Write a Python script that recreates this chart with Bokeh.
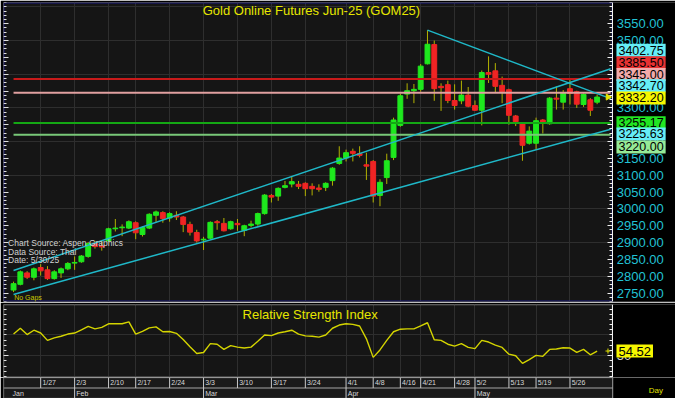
import numpy as np
from bokeh.plotting import figure
from bokeh.layouts import column
from bokeh.models import (Range1d, LinearAxis, FixedTicker, Label, BoxAnnotation,
                          ColumnDataSource, PrintfTickFormatter)
from bokeh.embed import file_html
from bokeh.resources import INLINE
from bokeh.core.properties import value

# ---------------- data ----------------
opens = [2759, 2776, 2810, 2797, 2826, 2819, 2793, 2810, 2822, 2839,
         2843, 2859, 2898, 2890, 2905, 2941, 2944, 2943, 2959, 2924,
         2943, 2981, 2989, 2973, 2981, 2976, 2954, 2930, 2908, 2913,
         2962, 2957, 2941, 2957, 2936, 2951, 2955, 2986, 3040, 3038,
         3064, 3074, 3073, 3076, 3067, 3062, 3064, 3084, 3135, 3151,
         3171, 3164, 3131, 3141, 3040, 3093, 3153, 3248, 3341, 3351,
         3355, 3431, 3488, 3364, 3369, 3322, 3321, 3338, 3307, 3293,
         3405, 3410, 3367, 3354, 3276, 3253, 3195, 3195, 3264, 3253,
         3329, 3317, 3357, 3348, 3310, 3324, 3317]
highs = [2784, 2817, 2815, 2826, 2836, 2830, 2818, 2826, 2842, 2859,
         2863, 2902, 2905, 2905, 2944, 2970, 2954, 2966, 2963, 2948,
         2987, 2995, 2993, 2990, 2993, 2979, 2962, 2938, 2917, 2963,
         2967, 2973, 2965, 2970, 2953, 2965, 2989, 3044, 3044, 3064,
         3083, 3095, 3083, 3079, 3076, 3073, 3079, 3124, 3186, 3176,
         3179, 3186, 3167, 3145, 3088, 3164, 3271, 3342, 3373, 3371,
         3430, 3531, 3500, 3373, 3381, 3370, 3381, 3362, 3322, 3411,
         3453, 3433, 3393, 3357, 3279, 3256, 3245, 3271, 3267, 3332,
         3364, 3353, 3383, 3351, 3343, 3329, 3340]
lows = [2753, 2773, 2792, 2788, 2802, 2789, 2790, 2795, 2818, 2819,
        2840, 2855, 2882, 2876, 2902, 2933, 2919, 2940, 2910, 2918,
        2940, 2959, 2959, 2962, 2967, 2931, 2921, 2900, 2878, 2910,
        2938, 2933, 2938, 2935, 2919, 2945, 2950, 2983, 3019, 3024,
        3061, 3064, 3059, 3038, 3040, 3051, 3053, 3069, 3131, 3141,
        3141, 3153, 3086, 3019, 3008, 3074, 3145, 3244, 3327, 3314,
        3348, 3429, 3321, 3291, 3314, 3295, 3311, 3302, 3291, 3248,
        3374, 3345, 3314, 3250, 3246, 3143, 3191, 3176, 3224, 3250,
        3295, 3295, 3310, 3300, 3303, 3276, 3311]
closes = [2778, 2813, 2797, 2822, 2816, 2793, 2813, 2822, 2838, 2841,
          2860, 2897, 2888, 2887, 2941, 2943, 2946, 2962, 2929, 2945,
          2984, 2991, 2971, 2986, 2976, 2954, 2931, 2905, 2910, 2960,
          2959, 2935, 2962, 2953, 2950, 2955, 2986, 3041, 3035, 3061,
          3069, 3081, 3067, 3060, 3060, 3058, 3076, 3121, 3151, 3167,
          3165, 3159, 3127, 3038, 3079, 3143, 3264, 3336, 3351, 3355,
          3424, 3489, 3357, 3360, 3322, 3307, 3338, 3305, 3293, 3405,
          3400, 3364, 3348, 3278, 3259, 3189, 3231, 3262, 3255, 3329,
          3326, 3345, 3343, 3311, 3340, 3293, 3332.20]
rsi = [70.9, 76.5, 70.4, 74.6, 71.9, 64.8, 67.2, 68.8, 70.9, 71.9,
       75.0, 78.3, 75.9, 77.4, 80.8, 80.8, 80.8, 82.7, 70.9, 73.4,
       76.9, 77.8, 73.1, 73.4, 71.6, 65.7, 58.6, 52.1, 53.1, 61.7,
       61.1, 56.1, 59.8, 58.3, 57.4, 58.3, 63.9, 70.0, 69.4, 71.9,
       73.1, 74.6, 70.9, 69.1, 68.8, 67.9, 70.0, 76.5, 79.6, 80.8,
       80.2, 78.7, 66.3, 48.4, 55.6, 64.8, 73.1, 75.6, 75.9, 75.9,
       78.7, 81.8, 65.4, 64.8, 61.1, 59.3, 61.7, 58.0, 56.8, 64.8,
       63.2, 60.2, 58.0, 51.5, 50.0, 42.6, 46.3, 50.3, 49.4, 56.1,
       56.5, 57.7, 57.4, 53.3, 56.1, 50.9, 54.52]

week_ticks = [4, 9, 14, 18, 23, 28, 33, 38, 43, 49, 53, 57, 60, 65, 68, 73, 77, 82]
week_labels = ["1/27", "2/3", "2/10", "2/17", "2/24", "3/3", "3/10", "3/17", "3/24",
               "4/1", "4/8", "4/16", "4/21", "4/28", "5/2", "5/13", "5/19", "5/26"]
month_ticks = [-0.4, 9, 28, 49, 68]
month_labels = ["Jan", "Feb", "Mar", "Apr", "May"]

price_ticks = [2750, 2800, 2850, 2900, 2950, 3000, 3050, 3100, 3150, 3200,
               3250, 3300, 3350, 3400, 3450, 3500, 3550]
price_grid = [2800, 2900, 3000, 3100, 3200, 3300, 3400, 3500, 3600]
rsi_grid = [30, 50, 70]

level_values = [3385.50, 3345.00, 3255.17, 3220.00]
level_colors = ["#c81a1a", "#e0a0a0", "#14a814", "#78c878"]

# trend lines: anchor points (bar index, price)
trend_x0 = [0, 0, 61]
trend_y0 = [2817.0, 2746.0, 3531.0]
trend_x1 = [86, 86, 86]
trend_y1 = [3402.75, 3225.63, 3342.70]

marker_values = ["3402.75", "3385.50", "3345.00", "3342.70", "3332.20",
                 "3255.17", "3225.63", "3220.00"]
marker_colors = ["#66eef6", "#e83232", "#f2aaaa", "#66eef6", "#f6f600",
                 "#22e622", "#66eef6", "#96ea96"]
# stacked box positions (price-equivalent, to avoid overlap)
marker_slots = [3471.4, 3434.3, 3399.1, 3365.4, 3329.7, 3255.7, 3222.6, 3184.0]

rsi_last = 54.52

# ---------------- style ----------------
FONT = "Liberation Sans"
BG = "#151515"
BORDER = "#000000"
GRID = "#2e2e2e"
CYAN = "#1fb8c8"
YELLOW = "#e6e600"
W = 675
X_LEFT, X_EDGE, X_MAX = -1.48, 88.3, 97.55
LINE_END = 88.0
BOX_X = 88.85

xr = Range1d(X_LEFT, X_MAX)
N = len(closes)
idx = list(range(N))


def minor_list(lo, hi, step):
    out = []
    v = lo
    while v <= hi:
        out.append(v)
        v += step
    return out


def ruler(fig, ticks, minors):
    ax = LinearAxis(ticker=FixedTicker(ticks=ticks, minor_ticks=minors),
                    fixed_location=X_LEFT, major_label_text_color=None,
                    axis_line_color=None, major_tick_in=5, major_tick_out=0,
                    minor_tick_in=3, minor_tick_out=0,
                    major_tick_line_color="#e0e0e0", minor_tick_line_color="#e0e0e0")
    fig.add_layout(ax, "left")


def side_panel(fig):
    # black area to the right of the plotting region
    fig.add_layout(BoxAnnotation(left=X_EDGE, fill_color="#000000", fill_alpha=1,
                                 line_color=None, level="glyph"))


def base_fig(height, yr, top, bottom, with_axis=True):
    f = figure(width=W, height=height, x_range=xr, y_range=yr,
               output_backend="svg", toolbar_location=None,
               x_axis_location=None, y_axis_location="right" if with_axis else None,
               min_border_left=3, min_border_right=0, min_border_top=top,
               min_border_bottom=bottom, background_fill_color=BG,
               border_fill_color=BORDER, outline_line_color=None)
    return f


def style_right_axis(ax, ticks, minors, color):
    ax.ticker = FixedTicker(ticks=ticks, minor_ticks=minors)
    ax.fixed_location = X_EDGE
    ax.major_label_text_color = color
    ax.major_label_text_font = FONT
    ax.major_label_text_font_size = "13px"
    ax.major_label_standoff = 4
    ax.axis_line_color = "#f0f0f0"
    ax.major_tick_in = 5
    ax.major_tick_out = 0
    ax.minor_tick_in = 3
    ax.minor_tick_out = 0
    ax.major_tick_line_color = "#f0f0f0"
    ax.minor_tick_line_color = "#f0f0f0"


def value_box(fig, x, y, txt, col, size):
    fig.add_layout(Label(x=x, y=y, text=txt, text_align="left", text_baseline="middle",
                         text_color="#000000", text_font=FONT, text_font_size=size,
                         background_fill_color=col, background_fill_alpha=1,
                         padding=2, level="overlay"))


# ---------------- main price panel ----------------
p = base_fig(302, Range1d(2725, 3613), 2, 1)
p.xgrid.ticker = FixedTicker(ticks=week_ticks)
p.ygrid.ticker = FixedTicker(ticks=price_grid)
p.xgrid.grid_line_color = GRID
p.ygrid.grid_line_color = GRID
side_panel(p)
p.add_layout(BoxAnnotation(right=X_EDGE, fill_color=None, line_color="#1e1ec8",
                           line_width=3, level="underlay"))

ay = p.yaxis[0]
style_right_axis(ay, price_ticks, minor_list(2725, 3612.5, 12.5), "#22c2d4")
ay.formatter = PrintfTickFormatter(format="%.2f")
ruler(p, price_ticks, minor_list(2725, 3612.5, 12.5))

up = [c >= o for o, c in zip(opens, closes)]
src = ColumnDataSource(dict(
    x=idx, o=opens, h=highs, l=lows, c=closes,
    top=[max(o, c) for o, c in zip(opens, closes)],
    bottom=[min(o, c) for o, c in zip(opens, closes)],
    color=["#1ee81e" if u else "#f02424" for u in up],
))
p.segment(x0="x", y0="l", x1="x", y1="h", source=src, line_color="#b2b200", line_width=1)
p.vbar(x="x", width=0.72, top="top", bottom="bottom", source=src,
       fill_color="color", line_color="color", line_width=1)

# horizontal levels
p.segment(x0=[0] * len(level_values), x1=[LINE_END] * len(level_values),
          y0=level_values, y1=level_values, line_color=level_colors, line_width=2)

# trend lines, extended to the right edge
ex, ey = [], []
for x0, y0, x1, y1 in zip(trend_x0, trend_y0, trend_x1, trend_y1):
    slope = (y1 - y0) / (x1 - x0)
    ex.append(LINE_END)
    ey.append(y0 + slope * (LINE_END - x0))
p.segment(x0=trend_x0, y0=trend_y0, x1=ex, y1=ey, line_color=CYAN, line_width=1.5)

p.scatter(x=[87.6], y=[closes[-1]], marker="triangle", angle=-np.pi / 2,
          size=6, fill_color=YELLOW, line_color=YELLOW)

p.add_layout(Label(x=43.9, y=3590, text="Gold Online Futures Jun-25 (GOM25)",
                   text_align="center", text_baseline="middle", text_color=YELLOW,
                   text_font=FONT, text_font_size="13px"))
for t, yv in zip(["Chart Source: Aspen Graphics", "Data Source: Thai", "Date:    5/30/25"],
                 [2900, 2873, 2848]):
    p.add_layout(Label(x=-0.8, y=yv, text=t, text_align="left", text_baseline="middle",
                       text_color="#d2d2d2", text_font=FONT, text_font_size="8.5px"))
p.add_layout(Label(x=0.1, y=2736, text="No Gaps", text_align="left", text_baseline="middle",
                   text_color="#c8c800", text_font=FONT, text_font_size="7px"))

for txt, col, yv in zip(marker_values, marker_colors, marker_slots):
    value_box(p, BOX_X, yv, txt, col, "12.5px")

# ---------------- RSI panel ----------------
r = base_fig(75, Range1d(29, 99.4), 2, 0)
r.xgrid.ticker = FixedTicker(ticks=week_ticks)
r.ygrid.ticker = FixedTicker(ticks=rsi_grid)
r.xgrid.grid_line_color = GRID
r.ygrid.grid_line_color = GRID
side_panel(r)
r.add_layout(BoxAnnotation(right=X_EDGE, fill_color=None, line_color="#bdbdbd",
                           line_width=2, level="underlay"))
ry = r.yaxis[0]
style_right_axis(ry, [50], minor_list(30, 95, 5), "#d0d0d0")
ruler(r, [50], minor_list(30, 95, 5))

r.line(x=idx, y=rsi, line_color="#d4d400", line_width=1.4)
r.scatter(x=[87.6], y=[rsi_last], marker="cross", size=5, line_color=YELLOW)
r.add_layout(Label(x=43.7, y=90.1, text="Relative Strength Index", text_align="center",
                   text_baseline="middle", text_color=YELLOW, text_font=FONT,
                   text_font_size="13px"))
value_box(r, BOX_X, rsi_last, f"{rsi_last:.2f}", "#f6f600", "13px")

# ---------------- date strip ----------------
d = base_fig(21, Range1d(0, 2), 0, 0, with_axis=False)
d.background_fill_color = "#1a1a1a"
d.xgrid.grid_line_color = None
d.ygrid.grid_line_color = None
side_panel(d)
d.add_layout(BoxAnnotation(right=X_EDGE, bottom=1, fill_color=None, line_color="#c8c8c8",
                           line_width=1.5, level="underlay"))
d.add_layout(BoxAnnotation(right=X_EDGE, top=1, fill_color=None, line_color="#c8c8c8",
                           line_width=1.5, level="underlay"))
d.segment(x0=week_ticks, y0=[1] * len(week_ticks), x1=week_ticks, y1=[2] * len(week_ticks),
          line_color="#c8c8c8", line_width=1)
d.segment(x0=month_ticks[1:], y0=[0] * (len(month_ticks) - 1), x1=month_ticks[1:],
          y1=[1] * (len(month_ticks) - 1), line_color="#c8c8c8", line_width=1)
d.text(x=[t + 0.25 for t in week_ticks], y=[1.5] * len(week_ticks), text=week_labels,
       text_font=value(FONT), text_font_size="7px", text_color="#d8d8d8",
       text_align="left", text_baseline="middle")
d.text(x=[t + 0.25 for t in month_ticks], y=[0.5] * len(month_ticks), text=month_labels,
       text_font=value(FONT), text_font_size="7px", text_color="#d8d8d8",
       text_align="left", text_baseline="middle")
d.add_layout(Label(x=93.6, y=0.75, text="Day", text_align="left", text_baseline="middle",
                   text_color="#e0e000", text_font=FONT, text_font_size="8px"))
# white line continuing the price axis
d.add_layout(BoxAnnotation(left=X_EDGE, right=X_EDGE, fill_color=None, line_color="#f0f0f0",
                           line_width=1, level="annotation"))

layout = column(p, r, d, spacing=0)
open("out.html", "w").write(file_html(layout, INLINE))
